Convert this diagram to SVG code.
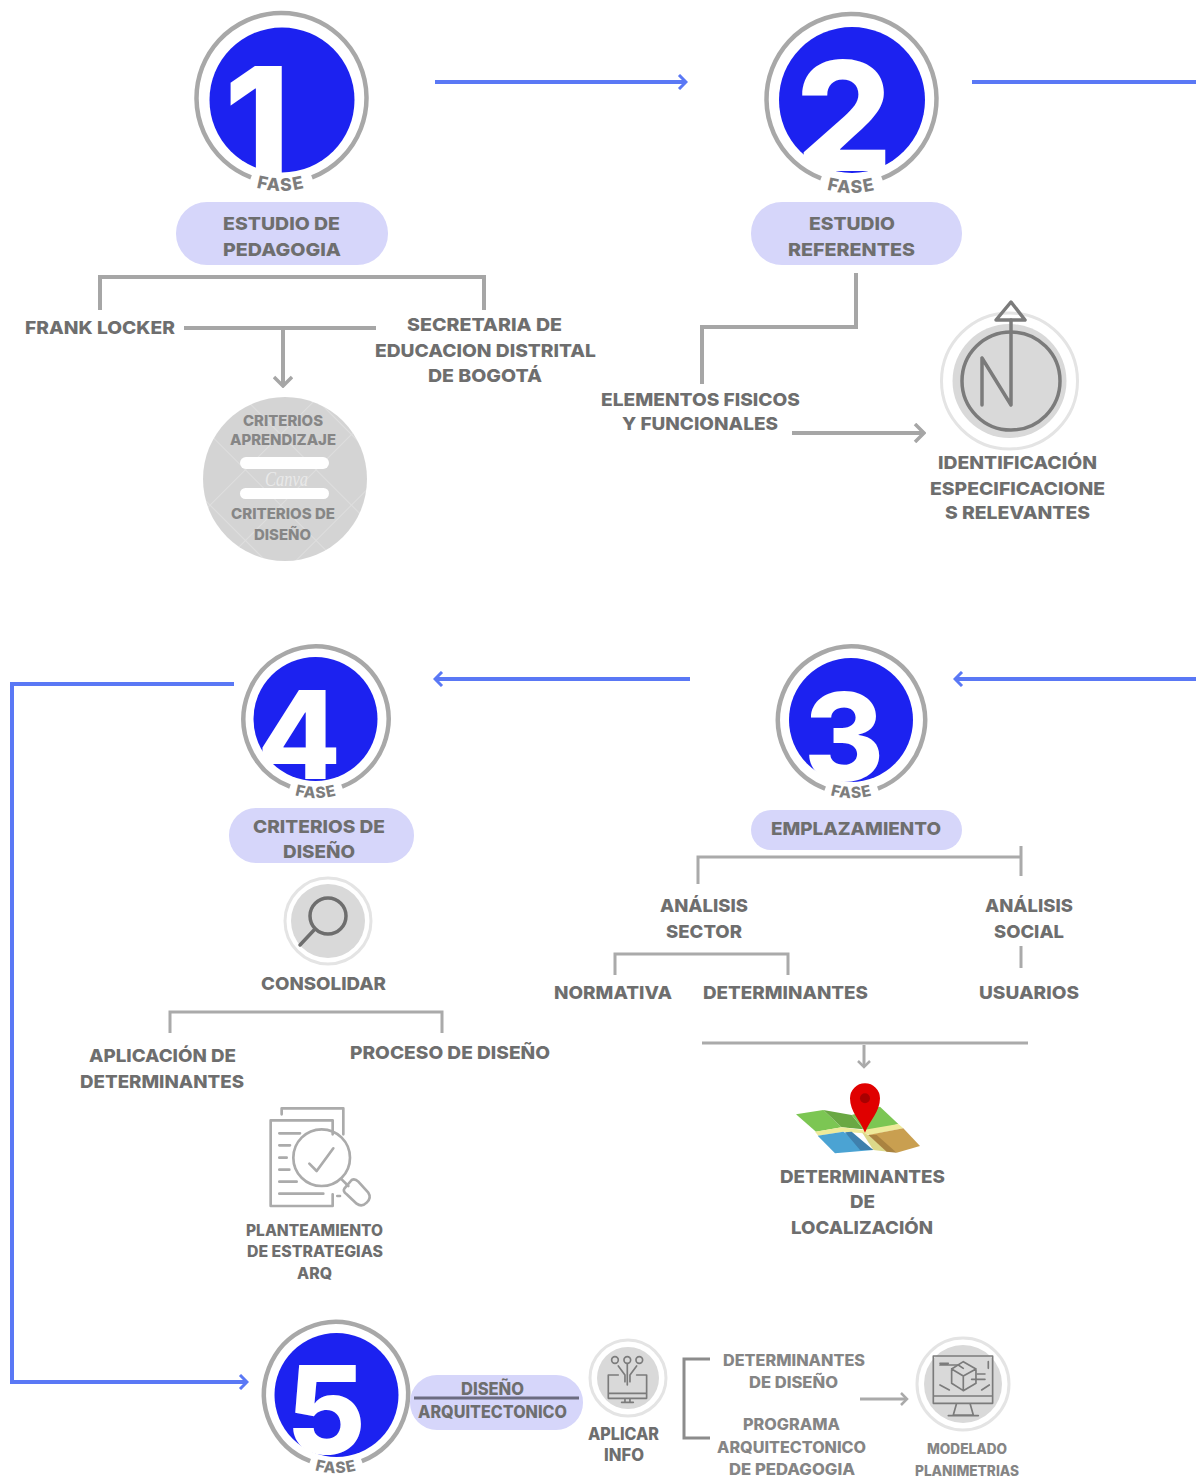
<svg xmlns="http://www.w3.org/2000/svg" width="1196" height="1477" viewBox="0 0 1196 1477">
<style>
text{font-family:"Inter","Liberation Sans",sans-serif;font-weight:800;fill:#6e6e6e;font-size:18px}
.s15{font-size:15.5px}.s14{font-size:14px}.s17{font-size:17px}
.lt{fill:#858585}.inc{fill:#868686;font-size:15px}
.fase{font-size:15.5px;fill:#7d7d7d;letter-spacing:1px}.fl{font-size:17.5px;letter-spacing:1.5px}
.dig{font-weight:800;fill:#fff;text-anchor:middle}
.d1{font-size:150px}.d2{font-size:152px}.d3{font-size:122px}
.cv{font-family:"Liberation Serif",serif;font-style:italic;font-weight:400;fill:#e9e9e9;font-size:20px}
.blue{fill:#1c22f0}
.ring{fill:none;stroke:#a8a8a8;stroke-width:4.5;stroke-dasharray:318 42}
.pill{fill:#d6d6fa}
.b{fill:none;stroke:#5a78f5;stroke-width:4}
.g{fill:none;stroke:#a6a6a6;stroke-width:4}
.g3{fill:none;stroke:#aaa;stroke-width:3}
.halo{fill:#fff;stroke:#e4e4e4;stroke-width:3}
.core{fill:#d9d9d9}
.ic{fill:none;stroke:#7b7b7b;stroke-linecap:round;stroke-linejoin:round}
.doc{fill:none;stroke:#ababab;stroke-width:8;stroke-linecap:round;stroke-linejoin:round}
</style>
<defs>
<marker id="ab" viewBox="0 0 12 16" refX="10" refY="8" markerWidth="12" markerHeight="16" markerUnits="userSpaceOnUse" orient="auto"><path d="M3,1 L10,8 L3,15" fill="none" stroke="#5a78f5" stroke-width="3"/></marker>
<marker id="ag" viewBox="0 0 14 20" refX="12" refY="10" markerWidth="14" markerHeight="20" markerUnits="userSpaceOnUse" orient="auto"><path d="M3,1 L12,10 L3,19" fill="none" stroke="#a6a6a6" stroke-width="3.5"/></marker>
<marker id="as" viewBox="0 0 10 14" refX="8" refY="7" markerWidth="10" markerHeight="14" markerUnits="userSpaceOnUse" orient="auto"><path d="M2,1 L8,7 L2,13" fill="none" stroke="#aaa" stroke-width="2.5"/></marker>
<clipPath id="c1"><circle cx="282" cy="100" r="76"/></clipPath>
<clipPath id="c2"><circle cx="852" cy="100" r="76"/></clipPath>
<clipPath id="c3"><circle cx="851" cy="720" r="65"/></clipPath>
<clipPath id="c4"><circle cx="315.500" cy="719" r="65"/></clipPath>
<clipPath id="c5"><circle cx="336.500" cy="1395" r="65"/></clipPath>
<path id="a1" d="M188,98 A93,93 0 0 0 374,98"/>
<path id="a2" d="M757.500,99 A94,94 0 0 0 945.500,99"/>
<path id="a3" d="M773.500,720 A78,78 0 0 0 929.500,720"/>
<path id="a4" d="M237,719 A79,79 0 0 0 395,719"/>
<path id="a5" d="M257,1394 A79,79 0 0 0 415,1394"/>
<pattern id="hatch" width="50" height="50" patternUnits="userSpaceOnUse" patternTransform="rotate(45 285 479)"><rect width="50" height="50" fill="#d4d4d4"/><path d="M0,0H50M0,0V50" stroke="#dedede" stroke-width="2"/></pattern>
</defs>
<rect width="1196" height="1477" fill="#fff"/>

<g id="connectors">
<path class="b" marker-end="url(#ab)" d="M435,82H686"/>
<path class="b" d="M972,82H1196"/>
<path class="b" marker-end="url(#ab)" d="M1196,679H955"/>
<path class="b" marker-end="url(#ab)" d="M690,679H435"/>
<path class="b" marker-end="url(#ab)" d="M234,684H12V1382H247"/>
<path class="g" d="M100,310V277H484V310"/>
<path class="g" d="M184,328H376"/>
<path class="g" marker-end="url(#ag)" d="M283,328V386"/>
<path class="g" d="M856,273V327H702V384"/>
<path class="g" marker-end="url(#ag)" d="M792,433H924"/>
<path class="g3" d="M698,884V857H1021M1021,846V876"/>
<path class="g3" d="M615,975V954H788V975"/>
<path class="g3" d="M1021,946V968"/>
<path class="g3" d="M702,1043H1028"/>
<path class="g3" marker-end="url(#as)" d="M864,1045V1067"/>
<path class="g3" d="M170,1033V1012H442V1033"/>
<path fill="none" stroke="#8c8c8c" stroke-width="3" d="M710,1359H684V1438H710"/>
<path class="g3" marker-end="url(#as)" d="M860,1399H907"/>
</g>

<g id="fase1">
<circle class="blue" cx="282" cy="100" r="72.500"/>
<circle class="ring" cx="281.500" cy="98" r="85" pathLength="360" transform="rotate(111 281.500 98)"/>
<text class="dig d1" clip-path="url(#c1)" x="257" y="175">1</text>
<text class="fase fl"><textPath href="#a1" startOffset="50%" text-anchor="middle">FASE</textPath></text>
</g>
<g id="estudio-pedagogia">
<rect class="pill" x="176" y="202" width="212" height="63" rx="31"/>
<text x="223" y="229.500" textLength="117" lengthAdjust="spacingAndGlyphs">ESTUDIO DE</text>
<text x="223" y="255.500" textLength="118" lengthAdjust="spacingAndGlyphs">PEDAGOGIA</text>
</g>
<g id="frank"><text x="25" y="334" textLength="150" lengthAdjust="spacingAndGlyphs">FRANK LOCKER</text></g>
<g id="secretaria">
<text x="407" y="331" textLength="155" lengthAdjust="spacingAndGlyphs">SECRETARIA DE</text>
<text x="375" y="356.500" textLength="221" lengthAdjust="spacingAndGlyphs">EDUCACION DISTRITAL</text>
<text x="428" y="382" textLength="114" lengthAdjust="spacingAndGlyphs">DE BOGOTÁ</text>
</g>
<g id="criterios-circulo">
<circle cx="285" cy="479" r="82" fill="url(#hatch)"/>
<rect x="240" y="457" width="89" height="12" rx="6" fill="#fff"/>
<rect x="240" y="488" width="89" height="11" rx="5.500" fill="#fff"/>
<text class="cv" x="265" y="486" textLength="43" lengthAdjust="spacingAndGlyphs">Canva</text>
<text class="inc" x="243" y="426" textLength="80" lengthAdjust="spacingAndGlyphs">CRITERIOS</text>
<text class="inc" x="230" y="445" textLength="106" lengthAdjust="spacingAndGlyphs">APRENDIZAJE</text>
<text class="inc" x="231" y="519" textLength="104" lengthAdjust="spacingAndGlyphs">CRITERIOS DE</text>
<text class="inc" x="254" y="540" textLength="57" lengthAdjust="spacingAndGlyphs">DISEÑO</text>
</g>

<g id="fase2">
<circle class="blue" cx="852" cy="100" r="73"/>
<circle class="ring" cx="851.500" cy="99" r="85" pathLength="360" transform="rotate(111 851.500 99)"/>
<text class="dig d2" clip-path="url(#c2)" x="844" y="171">2</text>
<text class="fase fl"><textPath href="#a2" startOffset="50%" text-anchor="middle">FASE</textPath></text>
</g>
<g id="estudio-referentes">
<rect class="pill" x="751" y="202" width="211" height="63" rx="31"/>
<text x="809" y="229.500" textLength="86" lengthAdjust="spacingAndGlyphs">ESTUDIO</text>
<text x="788" y="255.500" textLength="127" lengthAdjust="spacingAndGlyphs">REFERENTES</text>
</g>
<g id="elementos">
<text x="601" y="406" textLength="199" lengthAdjust="spacingAndGlyphs">ELEMENTOS FISICOS</text>
<text x="622" y="430" textLength="156" lengthAdjust="spacingAndGlyphs">Y FUNCIONALES</text>
</g>
<g id="identificacion">
<circle class="halo" cx="1009.500" cy="381" r="68"/>
<circle class="core" cx="1009.500" cy="381" r="57"/>
<g class="ic" stroke-width="3.500">
<circle cx="1011" cy="381" r="49"/>
<path d="M982,358V405M982,358L1011,405V320"/>
<path d="M1011,302L1025,320H996Z"/>
</g>
<text x="938" y="469" textLength="159" lengthAdjust="spacingAndGlyphs">IDENTIFICACIÓN</text>
<text x="930" y="494.500" textLength="175" lengthAdjust="spacingAndGlyphs">ESPECIFICACIONE</text>
<text x="945" y="519" textLength="145" lengthAdjust="spacingAndGlyphs">S RELEVANTES</text>
</g>

<g id="fase4">
<circle class="blue" cx="315.500" cy="719" r="62"/>
<circle class="ring" cx="316" cy="719" r="72.500" pathLength="360" transform="rotate(111 316 719)"/>
<text class="dig d3" clip-path="url(#c4)" x="299" y="779">4</text>
<text class="fase"><textPath href="#a4" startOffset="50%" text-anchor="middle">FASE</textPath></text>
</g>
<g id="criterios-diseno">
<rect class="pill" x="229" y="808" width="185" height="55" rx="27"/>
<text x="253" y="832.500" textLength="132" lengthAdjust="spacingAndGlyphs">CRITERIOS DE</text>
<text x="283" y="857.500" textLength="72" lengthAdjust="spacingAndGlyphs">DISEÑO</text>
</g>
<g id="consolidar">
<circle class="halo" cx="328" cy="921" r="43"/>
<circle class="core" cx="328" cy="921" r="37"/>
<g class="ic" stroke-width="3.500" style="stroke:#6e6e6e">
<circle cx="328" cy="916" r="18"/>
<path d="M315,929L300,945"/>
</g>
<text x="261" y="990" textLength="125" lengthAdjust="spacingAndGlyphs">CONSOLIDAR</text>
</g>
<g id="aplicacion">
<text x="89" y="1062" textLength="147" lengthAdjust="spacingAndGlyphs">APLICACIÓN DE</text>
<text x="80" y="1088" textLength="164" lengthAdjust="spacingAndGlyphs">DETERMINANTES</text>
</g>
<g id="proceso"><text x="350" y="1059" textLength="200" lengthAdjust="spacingAndGlyphs">PROCESO DE DISEÑO</text></g>
<g id="planteamiento">
<g transform="translate(250 1091) scale(.3333)" class="doc">
<path d="M95,70V52H280V130"/>
<path d="M248,130V88H62V345H248V310"/>
<path d="M88,127H150M88,163H120M88,200H110M88,236H118M88,272H140M88,308H220M262,315H270"/>
<circle cx="215" cy="200" r="85"/>
<path d="M178,218L200,240L250,172"/>
<path d="M275,265L295,285"/>
<path d="M283,293L305,267Q315,262 325,272L355,305Q365,320 350,335Q335,350 320,338L290,310Q278,300 283,293Z"/>
</g>
<text class="s15" x="246" y="1235.500" textLength="137" lengthAdjust="spacingAndGlyphs">PLANTEAMIENTO</text>
<text class="s15" x="247" y="1256.500" textLength="136" lengthAdjust="spacingAndGlyphs">DE ESTRATEGIAS</text>
<text class="s15" x="297" y="1278.500" textLength="35" lengthAdjust="spacingAndGlyphs">ARQ</text>
</g>

<g id="fase3">
<circle class="blue" cx="851" cy="720" r="62"/>
<circle class="ring" cx="851.500" cy="720" r="73.500" pathLength="360" transform="rotate(111 851.500 720)"/>
<text class="dig d3" clip-path="url(#c3)" x="844" y="781">3</text>
<text class="fase"><textPath href="#a3" startOffset="50%" text-anchor="middle">FASE</textPath></text>
</g>
<g id="emplazamiento">
<rect class="pill" x="751" y="810" width="211" height="40" rx="20"/>
<text x="771" y="835" textLength="170" lengthAdjust="spacingAndGlyphs">EMPLAZAMIENTO</text>
</g>
<g id="analisis-sector">
<text x="660" y="912" textLength="88" lengthAdjust="spacingAndGlyphs">ANÁLISIS</text>
<text x="666" y="938" textLength="76" lengthAdjust="spacingAndGlyphs">SECTOR</text>
</g>
<g id="analisis-social">
<text x="985" y="912" textLength="88" lengthAdjust="spacingAndGlyphs">ANÁLISIS</text>
<text x="994" y="938" textLength="70" lengthAdjust="spacingAndGlyphs">SOCIAL</text>
</g>
<g id="normativa"><text x="554" y="999" textLength="118" lengthAdjust="spacingAndGlyphs">NORMATIVA</text></g>
<g id="determinantes"><text x="703" y="999" textLength="165" lengthAdjust="spacingAndGlyphs">DETERMINANTES</text></g>
<g id="usuarios"><text x="979" y="999" textLength="100" lengthAdjust="spacingAndGlyphs">USUARIOS</text></g>
<g id="localizacion">
<g transform="translate(780 1070) scale(.3333)">
<path fill="#7cc653" d="M48,133L130,120L185,172L108,185Z"/>
<path fill="#6aa843" d="M130,120L215,135L250,178L185,172Z"/>
<path fill="#7cc653" d="M215,135L300,110L355,162L270,185L250,178Z"/>
<path fill="#eeea9a" d="M105,185L185,172L250,180L355,162L370,175L270,195L250,190L190,185L115,197Z"/>
<path fill="#4ba3d3" d="M113,197L190,185L280,240L165,250Z"/>
<path fill="#3f80ad" d="M195,187L215,185L280,240L240,240Z"/>
<path fill="#dcd98a" d="M245,185L265,195L325,245L280,240Z"/>
<path fill="#c99f50" d="M265,195L370,175L420,228L350,248Z"/>
<path fill="#aa8340" d="M265,195L290,195L350,248L320,245Z"/>
<path fill="#e00000" d="M255,188C240,150 210,125 210,85A45,45 0 0 1 300,85C300,125 270,150 255,188Z"/>
<circle cx="255" cy="85" r="15" fill="#a80000"/>
</g>
<text x="780" y="1182.500" textLength="165" lengthAdjust="spacingAndGlyphs">DETERMINANTES</text>
<text x="850" y="1208" textLength="25" lengthAdjust="spacingAndGlyphs">DE</text>
<text x="791" y="1233.500" textLength="142" lengthAdjust="spacingAndGlyphs">LOCALIZACIÓN</text>
</g>

<g id="fase5">
<circle class="blue" cx="336.500" cy="1395" r="62"/>
<circle class="ring" cx="336" cy="1394" r="72" pathLength="360" transform="rotate(111 336 1394)"/>
<text class="dig d3" clip-path="url(#c5)" x="326" y="1454">5</text>
<text class="fase"><textPath href="#a5" startOffset="50%" text-anchor="middle">FASE</textPath></text>
</g>
<g id="diseno-arq">
<rect class="pill" x="410" y="1375" width="173" height="55" rx="27"/>
<text class="s17" x="461" y="1394.500" textLength="63" lengthAdjust="spacingAndGlyphs">DISEÑO</text>
<path d="M414,1398H579" stroke="#6b6b80" stroke-width="3"/>
<text class="s17" x="418" y="1417.500" textLength="149" lengthAdjust="spacingAndGlyphs">ARQUITECTONICO</text>
</g>
<g id="aplicar">
<circle class="halo" cx="628" cy="1378" r="38"/>
<circle class="core" cx="628" cy="1378" r="31"/>
<g transform="translate(250 1310) scale(.3333)" class="ic" stroke-width="5">
<circle cx="1095" cy="150" r="10"/><circle cx="1132" cy="150" r="10"/><circle cx="1168" cy="150" r="10"/>
<path d="M1105,168L1125,195V215M1132,162V225M1160,168L1140,195V215"/>
<path d="M1105,195H1075V265H1190V195H1160M1075,250H1190M1125,265V275M1140,265V275M1115,277H1150"/>
</g>
<text class="s17" x="588" y="1439.500" textLength="71" lengthAdjust="spacingAndGlyphs">APLICAR</text>
<text class="s17" x="604" y="1460.500" textLength="40" lengthAdjust="spacingAndGlyphs">INFO</text>
</g>
<g id="det-diseno">
<text class="lt s15" x="723" y="1365.500" textLength="142" lengthAdjust="spacingAndGlyphs">DETERMINANTES</text>
<text class="lt s15" x="749" y="1388" textLength="89" lengthAdjust="spacingAndGlyphs">DE DISEÑO</text>
</g>
<g id="programa">
<text class="lt s15" x="743" y="1430" textLength="97" lengthAdjust="spacingAndGlyphs">PROGRAMA</text>
<text class="lt s15" x="717" y="1453" textLength="149" lengthAdjust="spacingAndGlyphs">ARQUITECTONICO</text>
<text class="lt s15" x="729" y="1475" textLength="126" lengthAdjust="spacingAndGlyphs">DE PEDAGOGIA</text>
</g>
<g id="modelado">
<circle class="halo" cx="963" cy="1384" r="46"/>
<circle class="core" cx="963" cy="1384" r="39"/>
<g transform="translate(670 1320) scale(.3333)" class="ic" stroke-width="5">
<path d="M790,108H968V250H790ZM790,228H968M860,250L850,285H910L900,250M835,287H925"/>
<path d="M880,125L918,147V190L880,212L845,190V147ZM845,147L880,168L918,147M880,168V212"/>
<path d="M810,130H835M810,135H865L880,145M922,162H945M905,178H945M955,125V145M810,195L838,210M935,210L958,195"/>
</g>
<text class="lt s14" x="927" y="1454" textLength="80" lengthAdjust="spacingAndGlyphs">MODELADO</text>
<text class="lt s14" x="915" y="1476" textLength="104" lengthAdjust="spacingAndGlyphs">PLANIMETRIAS</text>
</g>
</svg>
